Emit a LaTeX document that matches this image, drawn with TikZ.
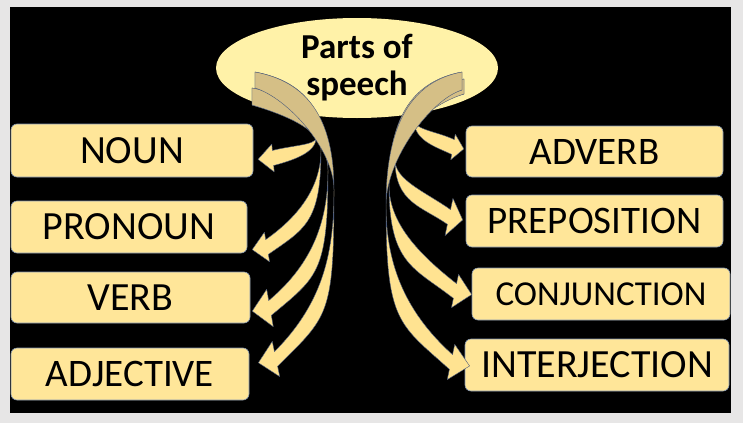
\documentclass[tikz,border=0pt]{standalone}
\usepackage{fontspec}
\setmainfont{Carlito}
\usetikzlibrary{calc,shapes.geometric}
\definecolor{bgray}{HTML}{E7E6E6}
\definecolor{boxfill}{HTML}{FFE699}
\definecolor{ellfill}{HTML}{FFF2A8}
\definecolor{arrfill}{HTML}{FFE391}
\definecolor{tanfill}{HTML}{D5BF86}
\definecolor{edgecol}{HTML}{4A5A7A}
\definecolor{boxedge}{HTML}{8496B0}
\begin{document}
\begin{tikzpicture}[x=1pt,y=-1pt,
  box/.style={rectangle, rounded corners=6pt, fill=boxfill, draw=boxedge, line width=0.6pt, inner sep=0pt},
  yellowlobe/.style={fill=arrfill, draw=edgecol, line width=0.4pt, line join=round},
  tanlobe/.style={fill=tanfill, draw=edgecol, line width=0.4pt, line join=round}]
\fill[bgray] (0,0) rectangle (743,423);
\useasboundingbox (0,0) rectangle (743,423);
\fill[black] (10,7) rectangle (731,413);

\node[ellipse, fill=ellfill, minimum width=282pt, minimum height=100pt, inner sep=0pt, align=center,
  font=\fontsize{35}{37}\selectfont\bfseries] (title) at (357,68) {Parts of\\speech};

\node[box, minimum width=242pt, minimum height=53pt, font=\fontsize{40}{48}\selectfont] (noun) at (132,150.5) {NOUN};
\node[box, minimum width=236pt, minimum height=52pt, font=\fontsize{40}{48}\selectfont] (pronoun) at (129,227) {PRONOUN};
\node[box, minimum width=239pt, minimum height=51pt, font=\fontsize{40}{48}\selectfont] (verb) at (130.5,297.5) {VERB};
\node[box, minimum width=238pt, minimum height=52pt, font=\fontsize{39}{47}\selectfont] (adjective) at (130,374) {ADJECTIVE};
\node[box, minimum width=257pt, minimum height=51pt, font=\fontsize{39}{47}\selectfont] (adverb) at (594.5,151.5) {ADVERB};
\node[box, minimum width=257pt, minimum height=52pt, font=\fontsize{39}{47}\selectfont] (preposition) at (594.5,221) {PREPOSITION};
\node[box, minimum width=258pt, minimum height=52pt, font=\fontsize{35}{42}\selectfont] (conjunction) at (601,294) {CONJUNCTION};
\node[box, minimum width=264pt, minimum height=52pt, font=\fontsize{40}{48}\selectfont] (interjection) at (597,365) {INTERJECTION};

\def\arrowlist{
 252/88/17/316/138/273/158/175/165/1/14/15,
 252/88/17/321/150/267/247/170/145/1/15/15,
 255/72/16/328/170/270/308/170/140/1/19/18,
 255/72/16/334/190/276/359/168/135/1/18/18,
 464/79/15/414/120/453/147/10/25/-1/13/11,
 464/79/15/395/160/449/217/12/35/-1/19/14,
 462/72/18/389/185/455/291/12/38/-1/17/17,
 462/72/18/386/205/451/362/12/42/-1/18/19}

\foreach \Tx/\Ty/\tth/\Xx/\Xy/\Hx/\Hy/\al/\ga/\s/\hw/\hl in \arrowlist {
  \pgfmathsetmacro\kthree{0.35*(\Hy-\Xy)}
  \pgfmathsetmacro\kthreeb{0.75*(\Hy-\Xy)}
  \pgfmathsetmacro\kfour{0.4*veclen(\Hx-\Xx,\Hy-\Xy)}
  \pgfmathsetmacro\kfourb{0.4*veclen(\Hx-\Xx,\Hy-\Xy)}
  \pgfmathsetmacro\nang{\al+90*\s}
  \pgfmathsetmacro\nangb{\al+90*\s+180}
  \pgfmathsetmacro\gab{\ga+180}
  \draw[yellowlobe] (\Xx,\Xy)
    .. controls ($(\Xx,\Xy)+(0,\kthree)$) and ($(\Hx,\Hy)+(\nang:7.5)+(\gab:\kfour)$) .. ($(\Hx,\Hy)+(\nang:7.5)$)
    -- ($(\Hx,\Hy)+(\nang:\hw)$) -- ($(\Hx,\Hy)+(\al:\hl)$) -- ($(\Hx,\Hy)+(\nangb:\hw)$)
    -- ($(\Hx,\Hy)+(\nangb:7.5)$)
    .. controls ($(\Hx,\Hy)+(\nangb:7.5)+(\gab:\kfourb)$) and ($(\Xx,\Xy)+(0,\kthreeb)$) .. (\Xx,\Xy) -- cycle;
}
\foreach \Tx/\Ty/\tth/\Xx/\Xy/\Hx/\Hy/\al/\ga/\s/\hw/\hl in \arrowlist {
  \pgfmathsetmacro\kone{0.65*abs(\Xx-\Tx)*\s}
  \pgfmathsetmacro\konedown{0.12*abs(\Xx-\Tx)}
  \pgfmathsetmacro\koneb{0.4*abs(\Xx-\Tx)*\s}
  \pgfmathsetmacro\ktwo{-0.62*abs(\Xy-\Ty)}
  \pgfmathsetmacro\ktwob{-0.35*abs(\Xy-\Ty)}
  \pgfmathsetmacro\Tyb{\Ty+\tth}
  \draw[tanlobe] (\Tx,\Ty)
    .. controls ($(\Tx,\Ty)+(\kone,\konedown)$) and ($(\Xx,\Xy)+(0,\ktwo)$) .. (\Xx,\Xy)
    .. controls ($(\Xx,\Xy)+(0,\ktwob)$) and ($(\Tx,\Tyb)+(\koneb,\konedown)$) .. (\Tx,\Tyb) -- cycle;
}
\end{tikzpicture}
\end{document}
